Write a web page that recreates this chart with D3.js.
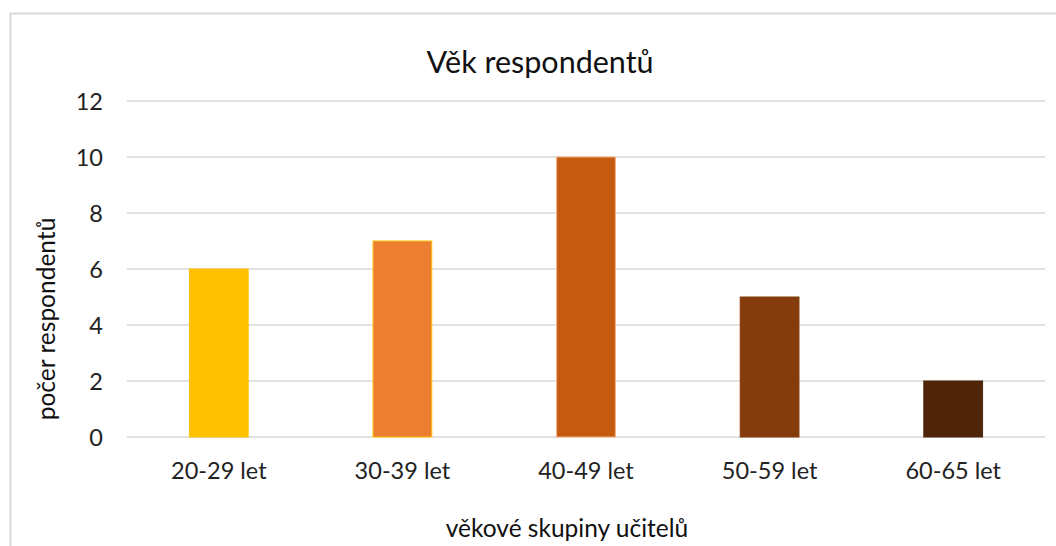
<!DOCTYPE html>
<html>
<head>
<meta charset="utf-8">
<script src="https://cdn.jsdelivr.net/npm/d3@7"></script>
<style>
  html, body { margin: 0; padding: 0; background: #fff; }
  svg { display: block; font-family: Lato, "Open Sans", sans-serif; }
</style>
</head>
<body>
<svg id="chart" width="1056" height="546"></svg>
<script>
// Age groups of the surveyed teachers and respondent counts
const categories = ["20-29 let", "30-39 let", "40-49 let", "50-59 let", "60-65 let"];
const counts = [6, 7, 10, 5, 2];
const barColors = ["#FFC000", "#ED7D31", "#C55A11", "#843C0C", "#4F250A"];
const barOutlines = ["#FFC000", "#FFC000", "#F4B183", "#843C0C", "#4F250A"];
const yTicks = [0, 2, 4, 6, 8, 10, 12];
const titleText = "Věk respondentů";
const xTitle = "věkové skupiny učitelů";
const yTitle = "počer respondentů";

const svg = d3.select("#chart");

// chart frame
svg.append("rect")
  .attr("x", 10.5).attr("y", 13.5)
  .attr("width", 1100).attr("height", 600)
  .attr("fill", "#fff")
  .attr("stroke", "#D9D9D9").attr("stroke-width", 2);

const plot = { left: 127, right: 1045, top: 101, bottom: 437 };

const x = d3.scaleBand()
  .domain(categories)
  .range([plot.left, plot.right])
  .paddingInner(0.68)
  .paddingOuter(0.34);

const y = d3.scaleLinear()
  .domain([0, 12])
  .range([plot.bottom, plot.top]);

// horizontal gridlines
svg.append("g")
  .selectAll("line")
  .data(yTicks)
  .join("line")
  .attr("x1", plot.left).attr("x2", plot.right)
  .attr("y1", d => y(d)).attr("y2", d => y(d))
  .attr("stroke", "#D9D9D9").attr("stroke-width", 1.5);

// y tick labels
const yAxis = d3.axisLeft(y).tickValues(yTicks).tickSize(0).tickPadding(0);
const gy = svg.append("g")
  .attr("transform", `translate(103,0)`)
  .call(yAxis);
gy.select(".domain").remove();
gy.selectAll("text")
  .attr("font-family", "Lato, 'Open Sans', sans-serif")
  .attr("font-size", 23.5)
  .attr("fill", "#222")
  .attr("dy", "0.35em");

// bars
svg.append("g")
  .selectAll("rect")
  .data(counts)
  .join("rect")
  .attr("x", (d, i) => x(categories[i]))
  .attr("width", x.bandwidth())
  .attr("y", d => y(d))
  .attr("height", d => y(0) - y(d))
  .attr("fill", (d, i) => barColors[i])
  .attr("stroke", (d, i) => barOutlines[i])
  .attr("stroke-width", 1);

// category labels
const xAxis = d3.axisBottom(x).tickSize(0).tickPadding(0);
const gx = svg.append("g")
  .attr("transform", `translate(0,${plot.bottom})`)
  .call(xAxis);
gx.select(".domain").remove();
gx.selectAll("text")
  .attr("font-family", "Lato, 'Open Sans', sans-serif")
  .attr("font-size", 23.5)
  .attr("fill", "#222")
  .attr("y", 42)
  .attr("dy", 0);

// title
svg.append("text")
  .attr("x", 540).attr("y", 73)
  .attr("text-anchor", "middle")
  .attr("font-size", 30.5)
  .attr("fill", "#111")
  .text(titleText);

// axis titles
svg.append("text")
  .attr("x", 567).attr("y", 537)
  .attr("text-anchor", "middle")
  .attr("font-size", 24.5)
  .attr("fill", "#111")
  .text(xTitle);

svg.append("text")
  .attr("transform", "translate(55,319) rotate(-90)")
  .attr("text-anchor", "middle")
  .attr("font-size", 24.5)
  .attr("fill", "#111")
  .text(yTitle);
</script>
</body>
</html>
